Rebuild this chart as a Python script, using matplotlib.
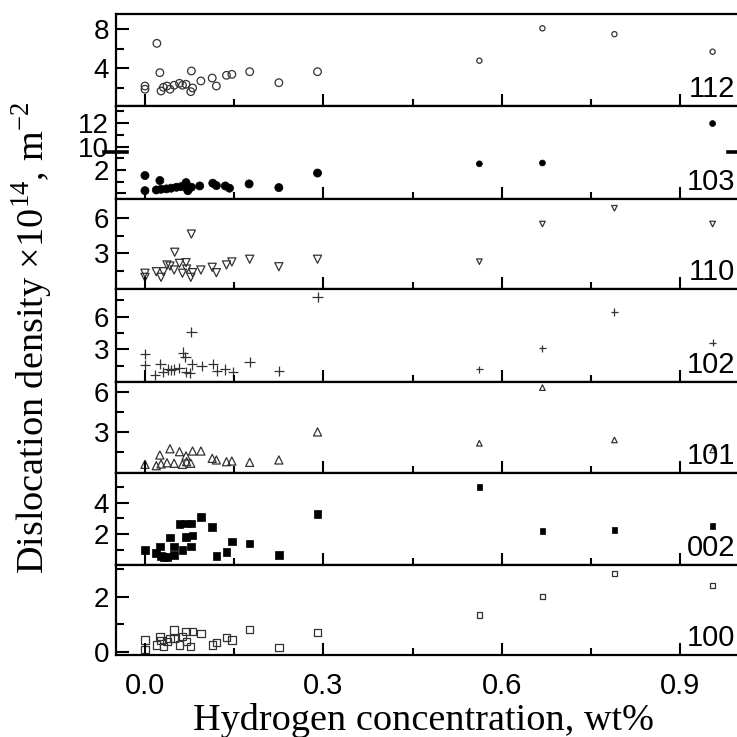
import matplotlib
matplotlib.use('Agg')
import matplotlib.pyplot as plt
import numpy as np
from matplotlib.lines import Line2D

plt.rcParams['font.family'] = ['Liberation Sans', 'DejaVu Sans']
plt.rcParams['mathtext.fontset'] = 'custom'
plt.rcParams['mathtext.rm'] = 'Liberation Serif'

# ---- data (x = H wt%, y = density x1e14 m^-2) ----
x112 = [0.0, 0.0, 0.020, 0.025, 0.027, 0.031, 0.037, 0.042, 0.049, 0.058, 0.063, 0.069, 0.077,
        0.080, 0.078, 0.094, 0.113, 0.120, 0.137, 0.146, 0.176, 0.225, 0.290, 0.562, 0.668, 0.789, 0.954]
y112 = [2.18, 1.85, 6.56, 3.55, 1.67, 2.05, 2.18, 1.85, 2.26, 2.46, 2.26, 2.36, 1.60,
        1.98, 3.72, 2.70, 3.00, 2.18, 3.28, 3.38, 3.65, 2.52, 3.65, 4.78, 8.10, 7.50, 5.70]

x103 = [0.0, 0.0, 0.019, 0.025, 0.027, 0.036, 0.044, 0.053, 0.061, 0.069, 0.072, 0.078, 0.092,
        0.114, 0.120, 0.135, 0.142, 0.175, 0.225, 0.290, 0.562, 0.668, 0.954]
y103 = [1.51, 0.23, 0.29, 1.09, 0.35, 0.38, 0.44, 0.52, 0.57, 0.91, 0.23, 0.52, 0.63,
        0.86, 0.66, 0.63, 0.44, 0.80, 0.49, 1.72, 2.50, 2.57, 11.95]

x110 = [0.0, 0.0, 0.019, 0.027, 0.031, 0.037, 0.042, 0.049, 0.050, 0.058, 0.063, 0.069, 0.070, 0.077,
        0.080, 0.078, 0.094, 0.113, 0.120, 0.137, 0.146, 0.176, 0.225, 0.290, 0.562, 0.668, 0.789, 0.954]
y110 = [1.29, 0.94, 1.42, 0.94, 1.42, 2.00, 1.91, 1.57, 3.09, 2.14, 1.29, 2.20, 1.65, 0.94,
        1.34, 4.65, 1.57, 1.80, 1.34, 2.00, 2.26, 2.49, 1.85, 2.49, 2.28, 5.51, 6.86, 5.51]

x102 = [0.0, 0.0, 0.017, 0.026, 0.030, 0.039, 0.044, 0.049, 0.058, 0.064, 0.068, 0.069, 0.075, 0.079,
        0.095, 0.114, 0.121, 0.135, 0.148, 0.078, 0.176, 0.225, 0.290, 0.562, 0.668, 0.789, 0.954]
y102 = [2.58, 1.57, 0.65, 1.66, 0.95, 1.17, 1.11, 1.17, 1.27, 2.70, 2.28, 0.95, 0.81, 1.63,
        1.50, 1.66, 1.05, 1.17, 0.95, 4.62, 1.87, 1.02, 7.83, 1.17, 3.10, 6.43, 3.61]

x101 = [0.0, 0.019, 0.025, 0.027, 0.037, 0.042, 0.049, 0.058, 0.063, 0.069, 0.070, 0.077, 0.080,
        0.094, 0.113, 0.120, 0.137, 0.146, 0.176, 0.225, 0.290, 0.562, 0.668, 0.789, 0.954]
y101 = [0.55, 0.45, 1.25, 0.58, 0.67, 1.72, 0.63, 1.50, 0.55, 1.18, 0.75, 0.63, 1.55,
        1.55, 1.00, 0.88, 0.75, 0.80, 0.70, 0.88, 2.98, 2.13, 6.30, 2.38, 1.63]

x002 = [0.0, 0.019, 0.025, 0.027, 0.031, 0.037, 0.042, 0.049, 0.049, 0.058, 0.063, 0.069, 0.069, 0.077,
        0.078, 0.080, 0.094, 0.113, 0.120, 0.137, 0.146, 0.176, 0.225, 0.290, 0.562, 0.668, 0.789, 0.954]
y002 = [0.98, 0.77, 1.19, 0.60, 0.55, 0.55, 1.77, 1.19, 0.66, 2.64, 0.98, 2.68, 1.79, 1.19,
        2.68, 1.90, 3.07, 2.43, 0.60, 0.87, 1.51, 1.40, 0.66, 3.26, 5.00, 2.19, 2.24, 2.51]

x100 = [0.0, 0.0, 0.019, 0.025, 0.027, 0.031, 0.037, 0.042, 0.049, 0.049, 0.058, 0.063, 0.069, 0.070,
        0.077, 0.080, 0.094, 0.113, 0.120, 0.137, 0.146, 0.176, 0.225, 0.290, 0.562, 0.668, 0.789, 0.954]
y100 = [0.43, 0.09, 0.24, 0.55, 0.40, 0.18, 0.36, 0.49, 0.79, 0.49, 0.24, 0.55, 0.73, 0.36,
        0.18, 0.73, 0.67, 0.24, 0.33, 0.51, 0.43, 0.81, 0.15, 0.70, 1.33, 2.00, 2.85, 2.40]

# ---- layout ----
W = 737
fig = plt.figure(figsize=(7.37, 7.37), dpi=100)
L = 116 / W
R = 1.0
XLIM = (-0.0487, 0.995)
CLR = '#333333'


def fy(px):
    return 1 - px / W


def style(ax, ylim, major, minor, labels=None, bottom_labels=False):
    ax.set_xlim(*XLIM)
    ax.set_ylim(*ylim)
    ax.set_xticks([0.0, 0.3, 0.6, 0.9])
    ax.set_xticks([0.15, 0.45, 0.75], minor=True)
    ax.set_yticks(major)
    if labels is not None:
        ax.set_yticklabels(labels)
    ax.set_yticks(minor, minor=True)
    ax.tick_params(which='both', direction='in', width=1.5, top=False, right=False,
                   labelsize=20, pad=5)
    ax.tick_params(axis='x', which='major', length=9)
    ax.tick_params(axis='x', which='minor', length=5)
    ax.tick_params(axis='y', which='major', length=9)
    ax.tick_params(axis='y', which='minor', length=6)
    ax.tick_params(axis='x', labelbottom=bottom_labels, pad=12, labelsize=21)
    for s in ['left', 'top', 'bottom']:
        ax.spines[s].set_linewidth(1.6)
    ax.spines['right'].set_visible(False)


def draw(ax, x, y, marker, filled, big, small):
    x = np.asarray(x)
    sizes = np.where(x < 0.4, big, small)
    if marker == '+':
        ax.scatter(x, y, s=sizes * 1.4, marker='+', c=CLR, linewidths=0.9)
    elif filled:
        ax.scatter(x, y, s=sizes, marker=marker, c='black', edgecolors='black', linewidths=0.5)
    else:
        ax.scatter(x, y, s=sizes, marker=marker, facecolors='none', edgecolors=CLR, linewidths=0.9)


def tag(ax, txt, y=0.1):
    ax.text(0.997, y, txt, transform=ax.transAxes, ha='right', va='baseline', fontsize=21)


# panel 112
ax1 = fig.add_axes([L, fy(106), R - L, fy(14.3) - fy(106)])
style(ax1, (0.13, 9.54), [4, 8], [2, 6])
draw(ax1, x112, y112, 'o', False, 30, 14)
tag(ax1, '112')

# panel 103 (broken y axis)
ax2u = fig.add_axes([L, fy(152), R - L, fy(106) - fy(152)])
style(ax2u, (9.6, 13.4), [10, 12], [11, 13])
ax2u.spines['bottom'].set_visible(False)
ax2u.tick_params(axis='x', which='both', bottom=False)
draw(ax2u, x103, y103, 'o', True, 34, 18)
ax2l = fig.add_axes([L, fy(199.3), R - L, fy(152) - fy(199.3)])
style(ax2l, (-0.5, 3.5), [0, 2], [1, 3], labels=['', '2'])
ax2l.spines['top'].set_visible(False)
draw(ax2l, x103, y103, 'o', True, 34, 18)
tag(ax2l, '103', y=0.2)
ax2l.tick_params(axis='y', which='major', length=7)
# break marks
fig.add_artist(Line2D([104 / W, 127 / W], [fy(152), fy(152)], color='black', lw=2.6))
fig.add_artist(Line2D([728 / W, 737 / W], [fy(152), fy(152)], color='black', lw=2.6))

# panel 110
ax3 = fig.add_axes([L, fy(289), R - L, fy(199.3) - fy(289)])
style(ax3, (-0.06, 7.63), [3, 6], [1.5, 4.5])
draw(ax3, x110, y110, 'v', False, 34, 16)
tag(ax3, '110')

# panel 102
ax4 = fig.add_axes([L, fy(382.3), R - L, fy(289) - fy(382.3)])
style(ax4, (-0.02, 8.54), [3, 6], [1.5, 4.5, 7.5])
draw(ax4, x102, y102, '+', False, 40, 20)
tag(ax4, '102')

# panel 101
ax5 = fig.add_axes([L, fy(473.3), R - L, fy(382.3) - fy(473.3)])
style(ax5, (-0.12, 6.7), [3, 6], [1.5, 4.5])
draw(ax5, x101, y101, '^', False, 34, 16)
tag(ax5, '101')

# panel 002
ax6 = fig.add_axes([L, fy(565), R - L, fy(473.3) - fy(565)])
style(ax6, (0.02, 5.88), [2, 4], [1, 3, 5])
draw(ax6, x002, y002, 's', True, 30, 16)
tag(ax6, '002')

# panel 100
ax7 = fig.add_axes([L, fy(655), R - L, fy(565) - fy(655)])
style(ax7, (-0.12, 3.15), [0, 2], [1, 3], bottom_labels=True)
draw(ax7, x100, y100, 's', False, 28, 14)
tag(ax7, '100')
ax7.set_xticklabels(['0.0', '0.3', '0.6', '0.9'])

fig.text(423 / W, fy(721), 'Hydrogen concentration, wt%',
         ha='center', va='center', fontsize=27.5, family='Liberation Serif')
fig.text(32 / W, fy(338), r'Dislocation density $\times$10$^{14}$, m$^{-2}$',
         ha='center', va='center', rotation=90, fontsize=27.5, family='Liberation Serif')

fig.savefig('out.png', dpi=100)
